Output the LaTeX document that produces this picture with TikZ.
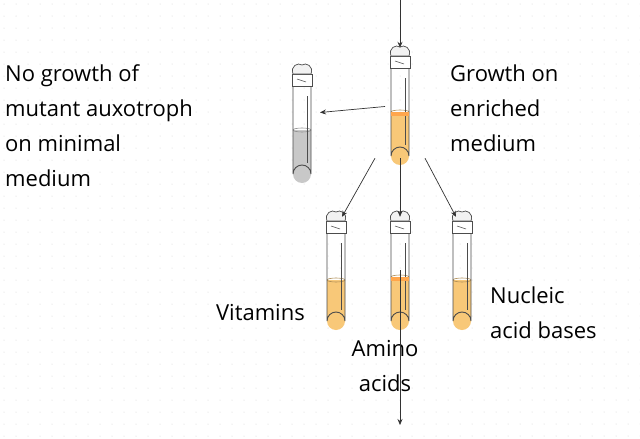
\documentclass[tikz,border=0pt]{standalone}
\usepackage{fontspec}
\setmainfont{Open Sans}
\usetikzlibrary{arrows.meta}
\begin{document}
\begin{tikzpicture}[x=1pt,y=-1pt,
  lbl/.style={font=\fontsize{22}{35}\selectfont,inner sep=0pt},
  arr/.style={-{Stealth[length=6pt,width=5pt]},gray!40!black,line width=0.7pt},
  tube/.style={draw=none,minimum width=20pt,inner sep=0pt}]
\useasboundingbox (0,0) rectangle (640,439);
\fill[white] (0,0) rectangle (640,439);
\foreach \i in {0,...,53}{\foreach \j in {0,...,36}{\fill[gray!35] (\i*12+4,\j*12+4) circle (0.5);}}
\newcommand\tubeA[6]{%
  \node[tube,minimum height=#4-#3] (#1) at (#2,{(#3+#4)/2}) {};
  \fill[#6] (#2-9,#5) -- (#2+9,#5) -- (#2+9,#4-9) arc[start angle=0,end angle=180,radius=9] -- cycle;
  \draw[#6!70!black,line width=0.6pt] (#2,#5) ellipse (9 and 2);
  \draw[gray!60!black,line width=0.9pt] (#2-9,#3+10) -- (#2-9,#4-9) arc[start angle=180,end angle=360,radius=9] -- (#2+9,#3+10);
  \draw[gray!60!black,line width=0.5pt] (#2+5,#3+30) -- (#2+5,#4-20);
  \draw[gray!60!black,fill=white,line width=0.7pt] (#2-10,#3+8) rectangle (#2+10,#3+20);
  \draw[gray!60!black,fill=gray!10,line width=0.7pt] (#2-9,#3+8) .. controls (#2-12,#3) and (#2-4,#3-4) .. (#2,#3-1) .. controls (#2+4,#3-4) and (#2+12,#3) .. (#2+9,#3+8) -- cycle;
  \draw[gray!60!black,line width=0.5pt] (#2-5,#3+13) -- (#2+4,#3+16);
}
\definecolor{med}{RGB}{248,200,120}
\definecolor{gmed}{RGB}{200,200,200}
\tubeA{main}{400}{48}{165}{112}{med}
\tubeA{neg}{302}{66}{183}{130}{gmed}
\tubeA{vit}{336}{213}{330}{280}{med}
\tubeA{ami}{400}{213}{330}{277}{med}
\tubeA{nuc}{462}{213}{330}{280}{med}
\fill[orange!70] (391,112) rectangle (409,116);
\fill[orange!70] (391,277) rectangle (409,281);
\coordinate (topin) at (400,0);
\coordinate (botout) at (400,425);
\node[lbl,anchor=west,align=left] (t1) at (5,126) {No growth of\\mutant auxotroph\\on minimal\\medium};
\node[lbl,anchor=west,align=left] (t2) at (450,108) {Growth on\\enriched\\medium};
\node[lbl,anchor=east] (t3) at (305,313) {Vitamins};
\node[lbl,anchor=west,align=left] (t4) at (490,313) {Nucleic\\acid bases};
\node[lbl,align=center] (t5) at (385,366) {Amino\\acids};
\draw[arr] (topin) -- (main.north);
\draw[arr] ([xshift=-15]main.center) -- ([xshift=18,yshift=12]neg.center);
\draw[arr] ([xshift=-25,yshift=7]main.south) -- ([xshift=6,yshift=-4]vit.north);
\draw[arr] ([yshift=7]main.south) -- ([yshift=-4]ami.north);
\draw[arr] ([xshift=25,yshift=7]main.south) -- ([xshift=-6,yshift=-4]nuc.north);
\draw[arr] ([yshift=60]ami.south) -- (botout);
\end{tikzpicture}
\end{document}
